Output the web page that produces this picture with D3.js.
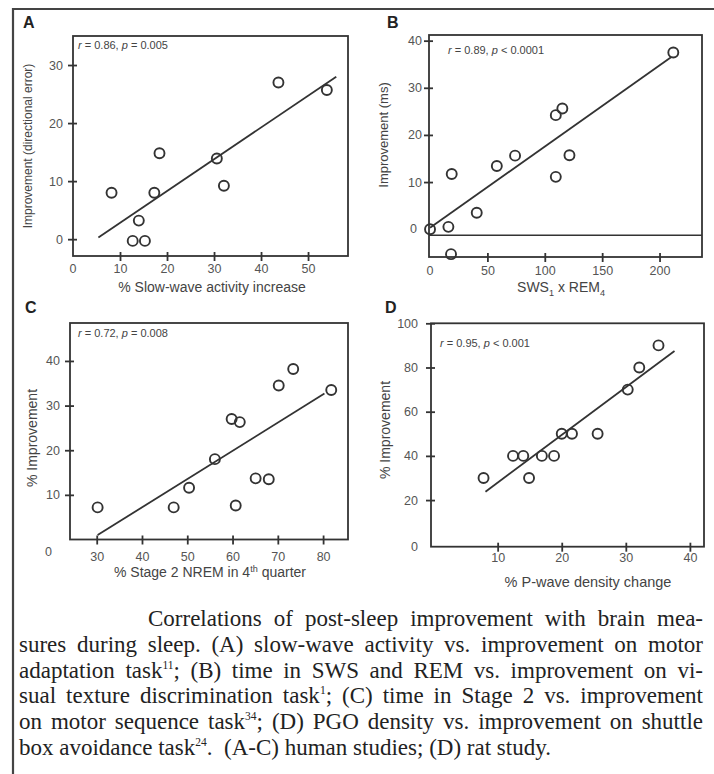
<!DOCTYPE html>
<html>
<head>
<meta charset="utf-8">
<script src="https://cdn.jsdelivr.net/npm/d3@7"></script>
<style>
  html, body { margin: 0; padding: 0; background: #fff; }
  svg { display: block; }
</style>
</head>
<body>
<div id="chart"></div>
<script>
// --- data ---
const aX = [8.2, 18.4, 17.3, 14.0, 12.7, 15.3, 30.6, 32.1, 43.7, 54.0];
const aY = [8.0, 14.8, 8.0, 3.2, -0.3, -0.3, 13.9, 9.2, 27.0, 25.7];
const aFit = [[5.4, 0.3], [56, 28]];

const bX = [0, 16, 18.9, 18.3, 40.7, 58.2, 74.1, 109.6, 109.6, 115.3, 121.5, 212];
const bY = [0, 0.5, 11.7, -5.3, 3.5, 13.4, 15.6, 11.1, 24.2, 25.6, 15.7, 37.5];
const bFit = [[0, 0.3], [210, 36.5]];
const bRefLine = -1.3;

const cX = [30.2, 47.0, 50.4, 56.1, 59.8, 61.6, 60.7, 65.1, 68.0, 70.2, 73.4, 81.8];
const cY = [7.2, 7.2, 11.6, 18.0, 27.0, 26.3, 7.6, 13.7, 13.5, 34.5, 38.2, 33.5];
const cFit = [[30.2, 1.0], [80.3, 32.7]];

const dX = [7.8, 12.4, 14.0, 14.9, 16.9, 18.8, 20.0, 21.6, 25.6, 30.3, 32.1, 35.1];
const dY = [30, 40, 40, 30, 40, 40, 50, 50, 50, 70, 80, 90];
const dFit = [[8.1, 23.8], [37.6, 87.5]];

const xTicksA = [10, 20, 30, 40, 50], yTicksA = [0, 10, 20, 30];
const xTicksB = [50, 100, 150, 200], yTicksB = [10, 20, 30, 40];
const xTicksC = [30, 40, 50, 60, 70, 80], yTicksC = [10, 20, 30, 40];
const xTicksD = [10, 20, 30, 40], yTicksD = [20, 40, 60, 80, 100];

const stats = ["r = 0.86, p = 0.005", "r = 0.89, p < 0.0001", "r = 0.72, p = 0.008", "r = 0.95, p < 0.001"];

const captionLines = [
  "Correlations of post-sleep improvement with brain mea-",
  "sures during sleep.  (A) slow-wave activity vs. improvement on motor",
  "adaptation task^11; (B) time in SWS and REM vs. improvement on vi-",
  "sual texture discrimination task^1; (C) time in Stage 2 vs. improvement",
  "on motor sequence task^34; (D) PGO density vs. improvement on shuttle",
  "box avoidance task^24.  (A-C) human studies; (D) rat study."
];

// --- setup ---
const width = 714, height = 774;
const ink = "#333";
const sans = "'Liberation Sans', Arial, sans-serif";

const svg = d3.select("#chart").append("svg").attr("width", width).attr("height", height);
svg.append("rect").attr("width", width).attr("height", height).attr("fill", "#fff");

// outer figure border (only top and left show)
svg.append("path").attr("d", `M13,${height} V9 H${width}`)
  .attr("fill", "none").attr("stroke", "#444").attr("stroke-width", 2.2);

const zip = (xs, ys) => xs.map((v, i) => [v, ys[i]]);

const panels = [
  { letter: "A", lx: 23, ly: 28, left: 73, right: 348, top: 36, bottom: 256,
    xDomain: [0, 58.5], yDomain: [-2.9, 35], xTicks: xTicksA, yTicks: yTicksA,
    pts: zip(aX, aY), fit: aFit, stat: stats[0], sx: 78, sy: 49,
    xZero: { x: 0, dy: 17 }, yZero: null, xPad: 17, yPad: 10,
    yLabel: "Improvement (directional error)", ylx: 28, yly: 146, ylSize: 12,
    xLabel: [["% Slow-wave activity increase"]], xlx: 212, xly: 292, xlSize: 14 },
  { letter: "B", lx: 387, ly: 28, left: 429, right: 702, top: 35, bottom: 257,
    xDomain: [-0.9, 237], yDomain: [-5.9, 41.2], xTicks: xTicksB, yTicks: yTicksB,
    pts: zip(bX, bY), fit: bFit, ref: bRefLine, stat: stats[1], sx: 448, sy: 54,
    xZero: { x: 0, dy: 18 }, yZero: { y: 0, dx: -12 }, xPad: 18, yPad: 7,
    yLabel: "Improvement (ms)", ylx: 383, yly: 135, ylSize: 13,
    xLabel: [["SWS"], ["1", "sub"], [" x REM"], ["4", "sub"]], xlx: 561, xly: 292, xlSize: 14 },
  { letter: "C", lx: 25, ly: 313, left: 70, right: 348, top: 323, bottom: 539.5,
    xDomain: [24.1, 85.5], yDomain: [0, 48.5], xTicks: xTicksC, yTicks: yTicksC,
    pts: zip(cX, cY), fit: cFit, stat: stats[2], sx: 78, sy: 337,
    xZero: null, yZero: { y: 0, dx: -18, dy: 12 }, xPad: 21, yPad: 10,
    yLabel: "% Improvement", ylx: 32, yly: 438, ylSize: 14,
    xLabel: [["% Stage 2 NREM in 4"], ["th", "sup"], [" quarter"]], xlx: 210, xly: 577, xlSize: 14 },
  { letter: "D", lx: 385, ly: 313, left: 431, right: 704, top: 323.3, bottom: 546.7,
    xDomain: [-0.4, 42.2], yDomain: [-1.1, 100], xTicks: xTicksD, yTicks: yTicksD,
    pts: zip(dX, dY), fit: dFit, stat: stats[3], sx: 440, sy: 347,
    xZero: null, yZero: { y: 0, dx: -13, dy: 3 }, xPad: 15, yPad: 13,
    yLabel: "% Improvement", ylx: 385, yly: 430, ylSize: 14,
    xLabel: [["% P-wave density change"]], xlx: 588, xly: 587, xlSize: 14.5 }
];

panels.forEach(drawPanel);
drawCaption();

function drawPanel(p) {
  const x = d3.scaleLinear().domain(p.xDomain).range([p.left, p.right]);
  const y = d3.scaleLinear().domain(p.yDomain).range([p.bottom, p.top]);
  const g = svg.append("g");

  g.append("text").attr("x", p.lx).attr("y", p.ly).text(p.letter)
    .attr("font-family", sans).attr("font-weight", "bold").attr("font-size", 16).attr("fill", "#222");

  g.append("rect")
    .attr("x", p.left).attr("y", p.top)
    .attr("width", p.right - p.left).attr("height", p.bottom - p.top)
    .attr("fill", "none").attr("stroke", ink).attr("stroke-width", 1.8);

  // axes - ticks cross the frame line
  const xa = g.append("g").attr("transform", `translate(0,${p.bottom})`)
    .call(d3.axisBottom(x).tickValues(p.xTicks).tickSize(0).tickPadding(p.xPad));
  xa.select(".domain").remove();
  xa.selectAll(".tick line").attr("y1", -4).attr("y2", 5).attr("stroke", ink).attr("stroke-width", 1.8);
  xa.selectAll(".tick text").attr("dy", 0).attr("fill", "#555").attr("font-size", 12.5).attr("font-family", sans);

  const ya = g.append("g").attr("transform", `translate(${p.left},0)`)
    .call(d3.axisLeft(y).tickValues(p.yTicks).tickSize(0).tickPadding(p.yPad));
  ya.select(".domain").remove();
  ya.selectAll(".tick line").attr("x1", -5).attr("x2", 4).attr("stroke", ink).attr("stroke-width", 1.8);
  ya.selectAll(".tick text").attr("fill", "#555").attr("font-size", 12.5).attr("font-family", sans);

  if (p.xZero) {
    g.append("text").attr("x", x(p.xZero.x)).attr("y", p.bottom + p.xZero.dy)
      .attr("text-anchor", "middle").attr("fill", "#555").attr("font-size", 12.5).attr("font-family", sans).text("0");
  }
  if (p.yZero) {
    g.append("text").attr("x", p.left + p.yZero.dx).attr("y", y(p.yZero.y) + (p.yZero.dy || 0))
      .attr("dy", "0.32em").attr("text-anchor", "end")
      .attr("fill", "#555").attr("font-size", 12.5).attr("font-family", sans).text("0");
  }

  if (p.ref !== undefined) {
    g.append("line").attr("x1", p.left).attr("x2", p.right)
      .attr("y1", y(p.ref)).attr("y2", y(p.ref)).attr("stroke", ink).attr("stroke-width", 1.6);
  }

  // regression line
  g.append("path").datum(p.fit)
    .attr("d", d3.line().x(d => x(d[0])).y(d => y(d[1])))
    .attr("fill", "none").attr("stroke", ink).attr("stroke-width", 1.8);

  g.selectAll("circle.pt").data(p.pts).join("circle")
    .attr("class", "pt")
    .attr("cx", d => x(d[0])).attr("cy", d => y(d[1]))
    .attr("r", 5).attr("fill", "none").attr("stroke", ink).attr("stroke-width", 1.9);

  // stats text with italic r and p
  const st = g.append("text").attr("x", p.sx).attr("y", p.sy)
    .attr("font-family", sans).attr("font-size", 11).attr("fill", "#444");
  p.stat.split(/([rp])(?= [=<])/).forEach(s => {
    if (!s) return;
    const t = st.append("tspan").text(s);
    if (s === "r" || s === "p") t.attr("font-style", "italic");
  });

  g.append("text")
    .attr("transform", `translate(${p.ylx},${p.yly}) rotate(-90)`)
    .attr("text-anchor", "middle").attr("dy", "0.35em")
    .attr("font-family", sans).attr("font-size", p.ylSize).attr("fill", "#444")
    .text(p.yLabel);

  const xl = g.append("text").attr("x", p.xlx).attr("y", p.xly).attr("text-anchor", "middle")
    .attr("font-family", sans).attr("font-size", p.xlSize).attr("fill", "#444");
  let shift = 0;
  p.xLabel.forEach(([s, kind]) => {
    const t = xl.append("tspan").text(s);
    let target = kind === "sub" ? 4 : kind === "sup" ? -5 : 0;
    if (target !== shift) { t.attr("dy", target - shift); shift = target; }
    if (kind) t.attr("font-size", "0.65em");
  });
}

function drawCaption() {
  const fontSize = 23, left = 19, indentLeft = 148, right = 703;
  const top = 626, lead = 25.8;
  const cap = svg.append("g").attr("font-family", "'Liberation Serif', 'Times New Roman', serif")
    .attr("font-size", fontSize).attr("fill", "#222");

  captionLines.forEach((line, i) => {
    const last = i === captionLines.length - 1;
    const words = line.split(" ").filter(w => w.length);
    const y = top + i * lead;
    const nodes = words.map(w => {
      const t = cap.append("text").attr("y", y);
      w.split(/\^(\d+)/).forEach((s, k) => {
        if (!s) return;
        const ts = t.append("tspan").text(s);
        if (k % 2 === 1) ts.attr("font-size", "0.5em").attr("dy", -9);
        else if (k > 0) ts.attr("dy", 9);
      });
      return t;
    });
    const widths = nodes.map(t => t.node().getComputedTextLength());
    const start = i === 0 ? indentLeft : left;
    const total = d3.sum(widths);
    const gap = last ? fontSize * 0.25 : (right - start - total) / (words.length - 1);
    let cx = start;
    nodes.forEach((t, k) => {
      t.attr("x", cx);
      cx += widths[k] + gap;
      // double space before "(A-C)" in the last line
      if (last && words[k].endsWith("^24.")) cx += gap;
    });
  });
}
</script>
</body>
</html>
